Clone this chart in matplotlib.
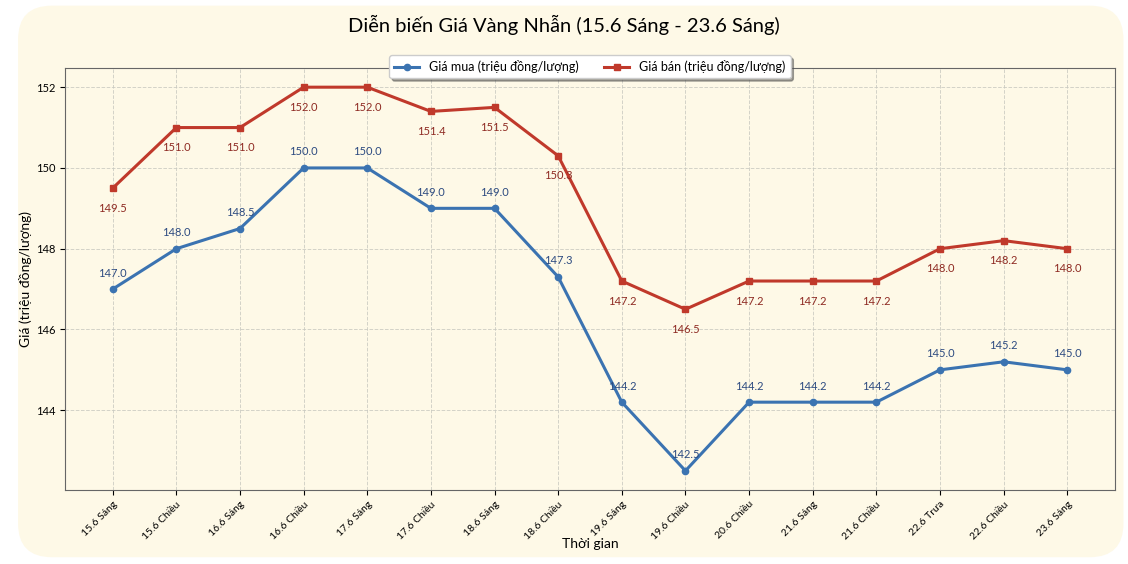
import matplotlib.pyplot as plt
from matplotlib.patches import FancyBboxPatch

plt.rcParams['font.family'] = ['Lato', 'DejaVu Sans']

labels = ['15.6 Sáng', '15.6 Chiều', '16.6 Sáng', '16.6 Chiều', '17.6 Sáng', '17.6 Chiều',
          '18.6 Sáng', '18.6 Chiều', '19.6 Sáng', '19.6 Chiều', '20.6 Chiều', '21.6 Sáng',
          '21.6 Chiều', '22.6 Trưa', '22.6 Chiều', '23.6 Sáng']
gia_mua = [147.0, 148.0, 148.5, 150.0, 150.0, 149.0, 149.0, 147.3,
           144.2, 142.5, 144.2, 144.2, 144.2, 145.0, 145.2, 145.0]
gia_ban = [149.5, 151.0, 151.0, 152.0, 152.0, 151.4, 151.5, 150.3,
           147.2, 146.5, 147.2, 147.2, 147.2, 148.0, 148.2, 148.0]

bg = '#fef9e7'
blue = '#3b73b1'
red = '#c0392b'

fig = plt.figure(figsize=(11.28, 5.64), dpi=100, facecolor='white')
box = FancyBboxPatch((0.016, 0.012), 0.98, 0.978, boxstyle='round,pad=0,rounding_size=0.03',
                     transform=fig.transFigure, facecolor=bg, edgecolor='none',
                     mutation_aspect=2.0, zorder=-10)
fig.patches.append(box)

ax = fig.add_axes([65 / 1128, 74 / 564, 1050 / 1128, 422 / 564])
ax.set_facecolor(bg)

x = list(range(len(labels)))
ax.plot(x, gia_mua, color=blue, marker='o', markersize=4.5, linewidth=2.2,
        label='Giá mua (triệu đồng/lượng)')
ax.plot(x, gia_ban, color=red, marker='s', markersize=4.5, linewidth=2.2,
        label='Giá bán (triệu đồng/lượng)')

for i, v in enumerate(gia_mua):
    ax.annotate(f'{v:.1f}', (i, v), textcoords='offset points', xytext=(0, 9),
                ha='center', fontsize=8, color='#2c4a80')
for i, v in enumerate(gia_ban):
    ax.annotate(f'{v:.1f}', (i, v), textcoords='offset points', xytext=(0, -17),
                ha='center', fontsize=8, color='#8e2a22')

ax.set_xticks(x)
ax.set_xticklabels(labels, rotation=45, ha='right', fontsize=7.5, rotation_mode='anchor')
ax.tick_params(axis='y', labelsize=8)
ax.set_yticks([144, 146, 148, 150, 152])
ax.grid(True, linestyle='--', color='#c8c8c0', linewidth=0.7, alpha=0.8)
for s in ax.spines.values():
    s.set_color('#666666')

ax.set_xlabel('Thời gian', fontsize=10, labelpad=-2)
ax.set_ylabel('Giá (triệu đồng/lượng)', fontsize=10, labelpad=3)
fig.text(0.5, 0.955, 'Diễn biến Giá Vàng Nhẫn (15.6 Sáng - 23.6 Sáng)', ha='center',
         va='center', fontsize=14.5)

ax.legend(loc='upper center', bbox_to_anchor=(0.5, 1.045), ncol=2, fontsize=9,
          shadow=True, frameon=True, facecolor='white', framealpha=1)

fig.savefig('out.png', dpi=100, facecolor='white')
